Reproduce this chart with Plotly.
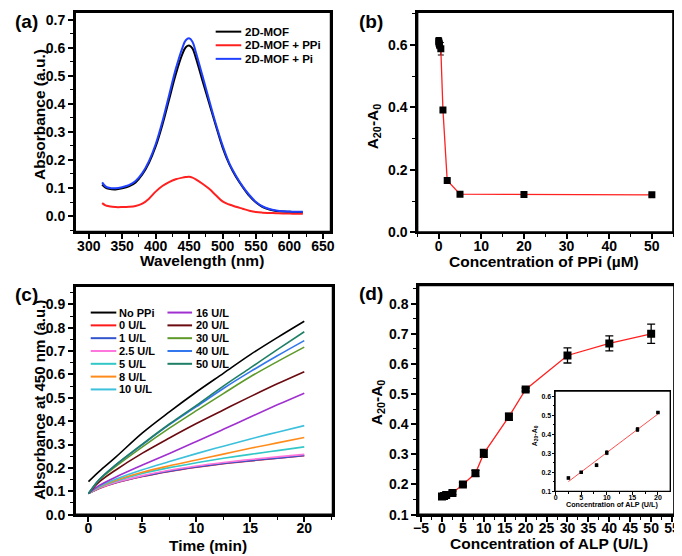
import plotly.graph_objects as go
import numpy as np

# ---------------- Data ----------------
# (a) UV-vis spectra
wavelength = [320, 325, 330, 340, 350, 360, 370, 380, 390, 400, 410, 420, 430, 440, 445, 450, 455,
              460, 470, 480, 490, 500, 510, 520, 530, 540, 550, 560, 570, 580, 590, 600, 610, 620]
abs_mof = [0.112, 0.101, 0.097, 0.095, 0.099, 0.106, 0.120, 0.148, 0.190, 0.248, 0.325, 0.415, 0.505,
           0.578, 0.602, 0.608, 0.598, 0.565, 0.483, 0.402, 0.322, 0.245, 0.185, 0.140, 0.104, 0.072,
           0.048, 0.032, 0.023, 0.018, 0.016, 0.015, 0.014, 0.013]
abs_mof_ppi = [0.046, 0.038, 0.035, 0.032, 0.032, 0.033, 0.036, 0.044, 0.062, 0.087, 0.107, 0.121,
               0.131, 0.137, 0.139, 0.140, 0.137, 0.131, 0.115, 0.097, 0.074, 0.052, 0.041, 0.033,
               0.026, 0.019, 0.014, 0.012, 0.011, 0.010, 0.009, 0.009, 0.008, 0.008]
abs_mof_pi = [0.120, 0.106, 0.101, 0.099, 0.103, 0.110, 0.125, 0.153, 0.196, 0.256, 0.336, 0.430,
              0.524, 0.600, 0.627, 0.634, 0.622, 0.585, 0.500, 0.413, 0.328, 0.252, 0.189, 0.144,
              0.106, 0.075, 0.050, 0.034, 0.025, 0.020, 0.017, 0.016, 0.015, 0.015]
spectra_names = ["2D-MOF", "2D-MOF + PPi", "2D-MOF + Pi"]

# (b) PPi dose response
ppi_conc = [0, 0.1, 0.2, 0.5, 1, 2, 5, 20, 50]
ppi_signal = [0.612, 0.606, 0.600, 0.588, 0.392, 0.166, 0.122, 0.121, 0.120]
ppi_err = [0.012, 0.012, 0.012, 0.020, 0.004, 0.005, 0.004, 0.004, 0.004]

# (c) kinetics
time_min = [0, 1, 2.5, 5, 7.5, 10, 12.5, 15, 17.5, 20]
kin_labels = ["No PPi", "0 U/L", "1 U/L", "2.5 U/L", "5 U/L", "8 U/L", "10 U/L",
              "16 U/L", "20 U/L", "30 U/L", "40 U/L", "50 U/L"]
kin_values = [
    [0.141, 0.185, 0.245, 0.350, 0.440, 0.525, 0.605, 0.685, 0.758, 0.828],
    [0.090, 0.112, 0.135, 0.163, 0.185, 0.203, 0.218, 0.230, 0.241, 0.252],
    [0.090, 0.113, 0.136, 0.164, 0.186, 0.204, 0.219, 0.231, 0.242, 0.253],
    [0.090, 0.114, 0.138, 0.167, 0.190, 0.208, 0.223, 0.236, 0.247, 0.258],
    [0.090, 0.117, 0.143, 0.176, 0.201, 0.222, 0.241, 0.258, 0.274, 0.290],
    [0.090, 0.118, 0.146, 0.181, 0.209, 0.234, 0.259, 0.284, 0.307, 0.330],
    [0.090, 0.120, 0.151, 0.192, 0.227, 0.261, 0.293, 0.324, 0.353, 0.381],
    [0.090, 0.125, 0.160, 0.212, 0.262, 0.313, 0.365, 0.418, 0.470, 0.520],
    [0.090, 0.140, 0.190, 0.263, 0.328, 0.390, 0.448, 0.505, 0.560, 0.612],
    [0.090, 0.148, 0.205, 0.290, 0.370, 0.445, 0.518, 0.590, 0.655, 0.717],
    [0.090, 0.150, 0.212, 0.300, 0.385, 0.462, 0.540, 0.612, 0.680, 0.745],
    [0.090, 0.150, 0.212, 0.302, 0.388, 0.468, 0.550, 0.628, 0.706, 0.783],
]
kin_colors = ["#000000", "#FF1A1A", "#3355CC", "#FF77DD", "#33C8C8", "#FF8C1A", "#3CC0DC",
              "#A030D0", "#6B0A10", "#5E9A2A", "#3377EE", "#1F7F66"]

# (d) ALP calibration
alp_conc = [0, 0.5, 1, 2.5, 5, 8, 10, 16, 20, 30, 40, 50]
alp_signal = [0.160, 0.162, 0.165, 0.172, 0.200, 0.237, 0.303, 0.425, 0.515, 0.628, 0.668, 0.700]
alp_err = [0.005, 0.004, 0.005, 0.006, 0.006, 0.010, 0.013, 0.012, 0.005, 0.025, 0.025, 0.032]
inset_conc = [2.5, 5, 8, 10, 16, 20]
inset_signal = [0.170, 0.200, 0.237, 0.303, 0.425, 0.515]
inset_err = [0.005, 0.004, 0.007, 0.010, 0.010, 0.003]

# ---------------- Layout helpers ----------------
W, H = 682, 556
FONT = "Liberation Sans, Arial, sans-serif"


def fx(px):
    return px / W


def fy(py):
    return 1 - py / H


# panel boxes in pixels: (left, right, top, bottom)
BOX_A = (63, 323, 4, 227)
BOX_B = (411, 671, 4, 227.5)
BOX_C = (63, 325, 282, 514)
BOX_D = (412, 672, 281.3, 514)
BOX_I = (551, 668, 388.7, 490.3)


def xdom(b):
    return [fx(b[0]), fx(b[1])]


def ydom(b):
    return [fy(b[3]), fy(b[2])]


def axis(dom, rng, dtick, minor, anchor, fmt=None, tick0=None, size=14, lw=2, tl=5, mtl=3, standoff=0):
    d = dict(domain=dom, range=rng, anchor=anchor, showline=True, linecolor="black", linewidth=lw,
             mirror=True, ticks="outside", ticklen=tl, tickwidth=lw * 0.8, tickcolor="black", dtick=dtick,
             tickfont=dict(family=FONT, size=size, color="black", weight="bold"),
             showgrid=False, zeroline=False, ticklabelstandoff=standoff, ticklabeloverflow="allow",
             minor=dict(dtick=minor, ticks="outside", ticklen=mtl, tickwidth=lw * 0.7,
                        tickcolor="black", showgrid=False))
    if fmt:
        d["tickformat"] = fmt
    if tick0 is not None:
        d["tick0"] = tick0
        d["minor"]["tick0"] = tick0
    return d


fig = go.Figure()

# (a)
for name, ys, col in zip(spectra_names, [abs_mof, abs_mof_ppi, abs_mof_pi], ["#000000", "#FF2020", "#2040FF"]):
    fig.add_trace(go.Scatter(x=wavelength, y=ys, mode="lines", name=name,
                             line=dict(color=col, width=2, shape="spline"),
                             xaxis="x", yaxis="y", showlegend=False))
# (b)
fig.add_trace(go.Scatter(x=ppi_conc, y=ppi_signal, mode="lines+markers",
                         line=dict(color="#FF2020", width=1.3),
                         marker=dict(symbol="square", size=7, color="black"),
                         error_y=dict(type="data", array=ppi_err, color="black", thickness=1.2, width=3),
                         xaxis="x2", yaxis="y2", showlegend=False))
# (c)
for lab, ys, col in zip(kin_labels, kin_values, kin_colors):
    fig.add_trace(go.Scatter(x=time_min, y=ys, mode="lines", name=lab,
                             line=dict(color=col, width=1.6, shape="spline"),
                             xaxis="x3", yaxis="y3", showlegend=False))
# (d)
fig.add_trace(go.Scatter(x=alp_conc, y=alp_signal, mode="lines+markers",
                         line=dict(color="#FF2020", width=1.3),
                         marker=dict(symbol="square", size=8, color="black"),
                         error_y=dict(type="data", array=alp_err, color="black", thickness=1.3, width=4),
                         xaxis="x4", yaxis="y4", showlegend=False))
# inset
slope, intercept = np.polyfit(inset_conc, inset_signal, 1)
fit_x = [min(inset_conc), max(inset_conc)]
fit_y = [slope * v + intercept for v in fit_x]
fig.add_trace(go.Scatter(x=fit_x, y=fit_y, mode="lines", line=dict(color="#FF5050", width=1),
                         xaxis="x5", yaxis="y5", showlegend=False))
fig.add_trace(go.Scatter(x=inset_conc, y=inset_signal, mode="markers",
                         marker=dict(symbol="square", size=3.5, color="black"),
                         error_y=dict(type="data", array=inset_err, color="black", thickness=0.8, width=1.5),
                         xaxis="x5", yaxis="y5", showlegend=False))

layout = dict(
    width=W, height=H, margin=dict(l=0, r=0, t=0, b=0),
    paper_bgcolor="white", plot_bgcolor="white", showlegend=False,
    xaxis=axis(xdom(BOX_A), [279.4, 661.8], 50, 25, "y", tick0=300, standoff=-5),
    yaxis=axis(ydom(BOX_A), [-0.056, 0.728], 0.1, 0.05, "x", fmt=".1f", tick0=0),
    xaxis2=axis(xdom(BOX_B), [-5, 55], 10, 5, "y2", tick0=0, standoff=-5),
    yaxis2=axis(ydom(BOX_B), [0, 0.706], 0.2, 0.1, "x2", fmt=".1f", tick0=0),
    xaxis3=axis(xdom(BOX_C), [-1.25, 22.64], 5, 2.5, "y3", tick0=0, standoff=-5),
    yaxis3=axis(ydom(BOX_C), [0, 0.979], 0.1, 0.05, "x3", fmt=".1f", tick0=0),
    xaxis4=axis(xdom(BOX_D), [-5.65, 55.5], 5, 2.5, "y4", tick0=0, standoff=-5),
    yaxis4=axis(ydom(BOX_D), [0.1, 0.861], 0.1, 0.05, "x4", fmt=".1f", tick0=0),
    xaxis5=axis(xdom(BOX_I), [-0.1, 22.4], 5, 2.5, "y5", tick0=0, size=7, lw=1.2, tl=2.5, mtl=1.5,
                standoff=-3),
    yaxis5=axis(ydom(BOX_I), [0.1, 0.627], 0.1, 0.05, "x5", fmt=".1f", tick0=0,
                size=7, lw=1.2, tl=2.5, mtl=1.5, standoff=-1),
)
fig.update_layout(**layout)

ann = []


def txt(text, x, y, size, angle=0, xanchor="center"):
    ann.append(dict(text=text, x=fx(x), y=fy(y), xref="paper", yref="paper", showarrow=False,
                    textangle=angle, xanchor=xanchor, yanchor="middle",
                    font=dict(family=FONT, size=size, color="black", weight="bold")))


# panel labels
txt("(a)", 0, 14, 19, xanchor="left")
txt("(b)", 350, 14, 19, xanchor="left")
txt("(c)", 0, 291, 19, xanchor="left")
txt("(d)", 350, 290, 19, xanchor="left")
# axis titles
txt("Absorbance (a.u.)", 27, 108, 15.5, angle=-90)
txt("Wavelength (nm)", 192.5, 256.5, 15.5)
txt("A<sub>20</sub>-A<sub>0</sub>", 366, 120, 15.5, angle=-90)
txt("Concentration of PPi (µM)", 540, 257.5, 15.5)
txt("Absorbance at 450 nm (a.u.)", 27, 398, 15, angle=-90)
txt("Time (min)", 198.7, 545, 15.5)
txt("A<sub>20</sub>-A<sub>0</sub>", 370, 400, 15.5, angle=-90)
txt("Concentration of ALP (U/L)", 545, 543, 15.5)
txt("A<sub>20</sub>-A<sub>0</sub>", 530, 434, 7, angle=-90)
txt("Concentration of ALP (U/L)", 609, 504, 7.2)

shapes = []
# plot frames in paper coordinates
for b, lw in [(BOX_A, 2), (BOX_B, 2), (BOX_C, 2), (BOX_D, 2), (BOX_I, 1.2)]:
    shapes.append(dict(type="rect", xref="paper", yref="paper", x0=fx(b[0]), x1=fx(b[1]),
                       y0=fy(b[3]), y1=fy(b[2]), line=dict(color="black", width=lw),
                       fillcolor="rgba(0,0,0,0)", layer="above"))

# legend (a)
leg_a_colors = ["#000000", "#FF2020", "#2040FF"]
for i, (name, col) in enumerate(zip(spectra_names, leg_a_colors)):
    yy = 24 + i * 13.8
    shapes.append(dict(type="line", xref="paper", yref="paper", x0=fx(206), x1=fx(232),
                       y0=fy(yy), y1=fy(yy), line=dict(color=col, width=2)))
    txt(name, 233.5, yy, 11.5, xanchor="left")

# legend (c): two columns
for i, (lab, col) in enumerate(zip(kin_labels, kin_colors)):
    if i < 7:
        x0, x1, xt, yy = 79, 105, 106, 309 + i * 13
    else:
        x0, x1, xt, yy = 157, 182, 183.5, 309 + (i - 7) * 13
    shapes.append(dict(type="line", xref="paper", yref="paper", x0=fx(x0), x1=fx(x1),
                       y0=fy(yy), y1=fy(yy), line=dict(color=col, width=2)))
    txt(lab, xt, yy, 11, xanchor="left")

fig.update_layout(annotations=ann, shapes=shapes)
fig.write_html("out.html")
